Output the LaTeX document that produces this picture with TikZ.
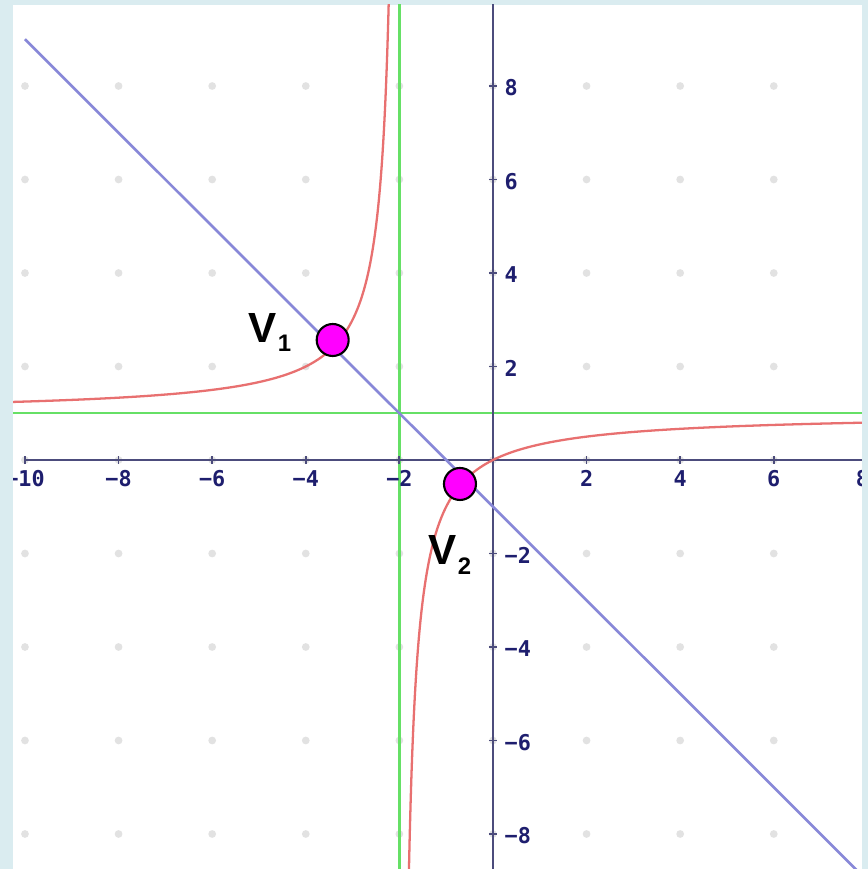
\documentclass[tikz,border=0pt]{standalone}
\usepackage{fontspec}
\setmainfont{Liberation Sans}
\newfontfamily\tickfont[BoldFont=DejaVu Sans Mono Bold]{DejaVu Sans Mono}
\usepackage{tikz}
\usetikzlibrary{positioning}
\definecolor{framebg}{HTML}{DAECF0}
\definecolor{axiscol}{HTML}{4C4C7C}
\definecolor{ticklbl}{HTML}{1E1E6E}
\definecolor{asymline}{HTML}{66E066}
\definecolor{diagline}{HTML}{8888D8}
\definecolor{curvecol}{HTML}{E87070}
\definecolor{vtxfill}{HTML}{FF00FF}
\definecolor{griddot}{HTML}{E2E2E2}
\newcommand\vsub[1]{\kern0.3pt\raisebox{-0.095cm}{\fontsize{6.8}{7}\selectfont\bfseries #1}}
\tikzset{
  vtx/.style={circle,draw=black,line width=0.6pt,fill=vtxfill,minimum size=0.32cm,inner sep=0pt},
  vlabel/.style={anchor=base east,inner sep=0pt,font=\fontsize{12}{14}\selectfont\bfseries},
  xlbl/.style={anchor=north,inner sep=0pt,yshift=-0.1cm,text=ticklbl,font=\tickfont\bfseries\fontsize{6.2}{7}\selectfont},
  ylbl/.style={anchor=west,inner sep=0pt,xshift=0.11cm,yshift=-0.02cm,text=ticklbl,font=\tickfont\bfseries\fontsize{6.2}{7}\selectfont}
}

\begin{document}
\begin{tikzpicture}[x=0.468cm,y=0.4675cm]
\useasboundingbox (-10.534,-8.749) rectangle (8.013,9.840);
\fill[framebg] (-10.534,-8.749) rectangle (8.013,9.840);
\fill[white] (-10.256,-8.749) rectangle (7.885,9.733);
\begin{scope}
\clip (-10.256,-8.749) rectangle (7.885,9.733);
% grid dots
\foreach \x in {-10,-8,...,8}{
  \foreach \y in {-8,-6,...,8}{
    \fill[griddot] (\x,\y) circle (1.1pt);
  }
}
% asymptotes
\draw[asymline,line width=0.7pt] (-10.3,1) -- (8.1,1);
\draw[asymline,line width=0.7pt] (-2,-8.8) -- (-2,9.8);
% axes
\draw[axiscol,line width=0.75pt] (-10,0) -- (8.1,0);
\draw[axiscol,line width=0.75pt] (0,-8.8) -- (0,9.8);
\foreach \x/\t in {-10/−10,-8/−8,-6/−6,-4/−4,-2/−2,2/2,4/4,6/6}{
  \draw[axiscol,line width=0.5pt] (\x,-0.09) -- (\x,0.09);
  \node[xlbl] (xt\x) at (\x,0) {\t};
}
\node[xlbl,xshift=-0.05cm] (xt8) at (8,0) {8};
\foreach \y/\t in {-8/−8,-6/−6,-4/−4,-2/−2,2/2,4/4,6/6,8/8}{
  \draw[axiscol,line width=0.5pt] (-0.09,\y) -- (0.09,\y);
  \node[ylbl] (yt\y) at (0,\y) {\t};
}
% line and curve
\draw[diagline,line width=0.75pt] (-10,9) -- (8.1,-9.1);
\draw[curvecol,line width=0.65pt] plot[domain=-1.5:2.15,samples=150,smooth] ({-2-exp(\x)},{1+2*exp(-\x)});
\draw[curvecol,line width=0.65pt] plot[domain=-1.62:2.32,samples=150,smooth] ({-2+exp(\x)},{1-2*exp(-\x)});
\end{scope}
% intersection points
\node[vtx] (v1) at (-3.425,2.567) {};
\node[vtx] (v2) at (-0.705,-0.513) {};
\node[vlabel] (v1lbl) at (-4.295,2.524) {V\vsub{1}};
\node[vlabel] (v2lbl) at (-0.449,-2.246) {V\vsub{2}};
\end{tikzpicture}
\end{document}
